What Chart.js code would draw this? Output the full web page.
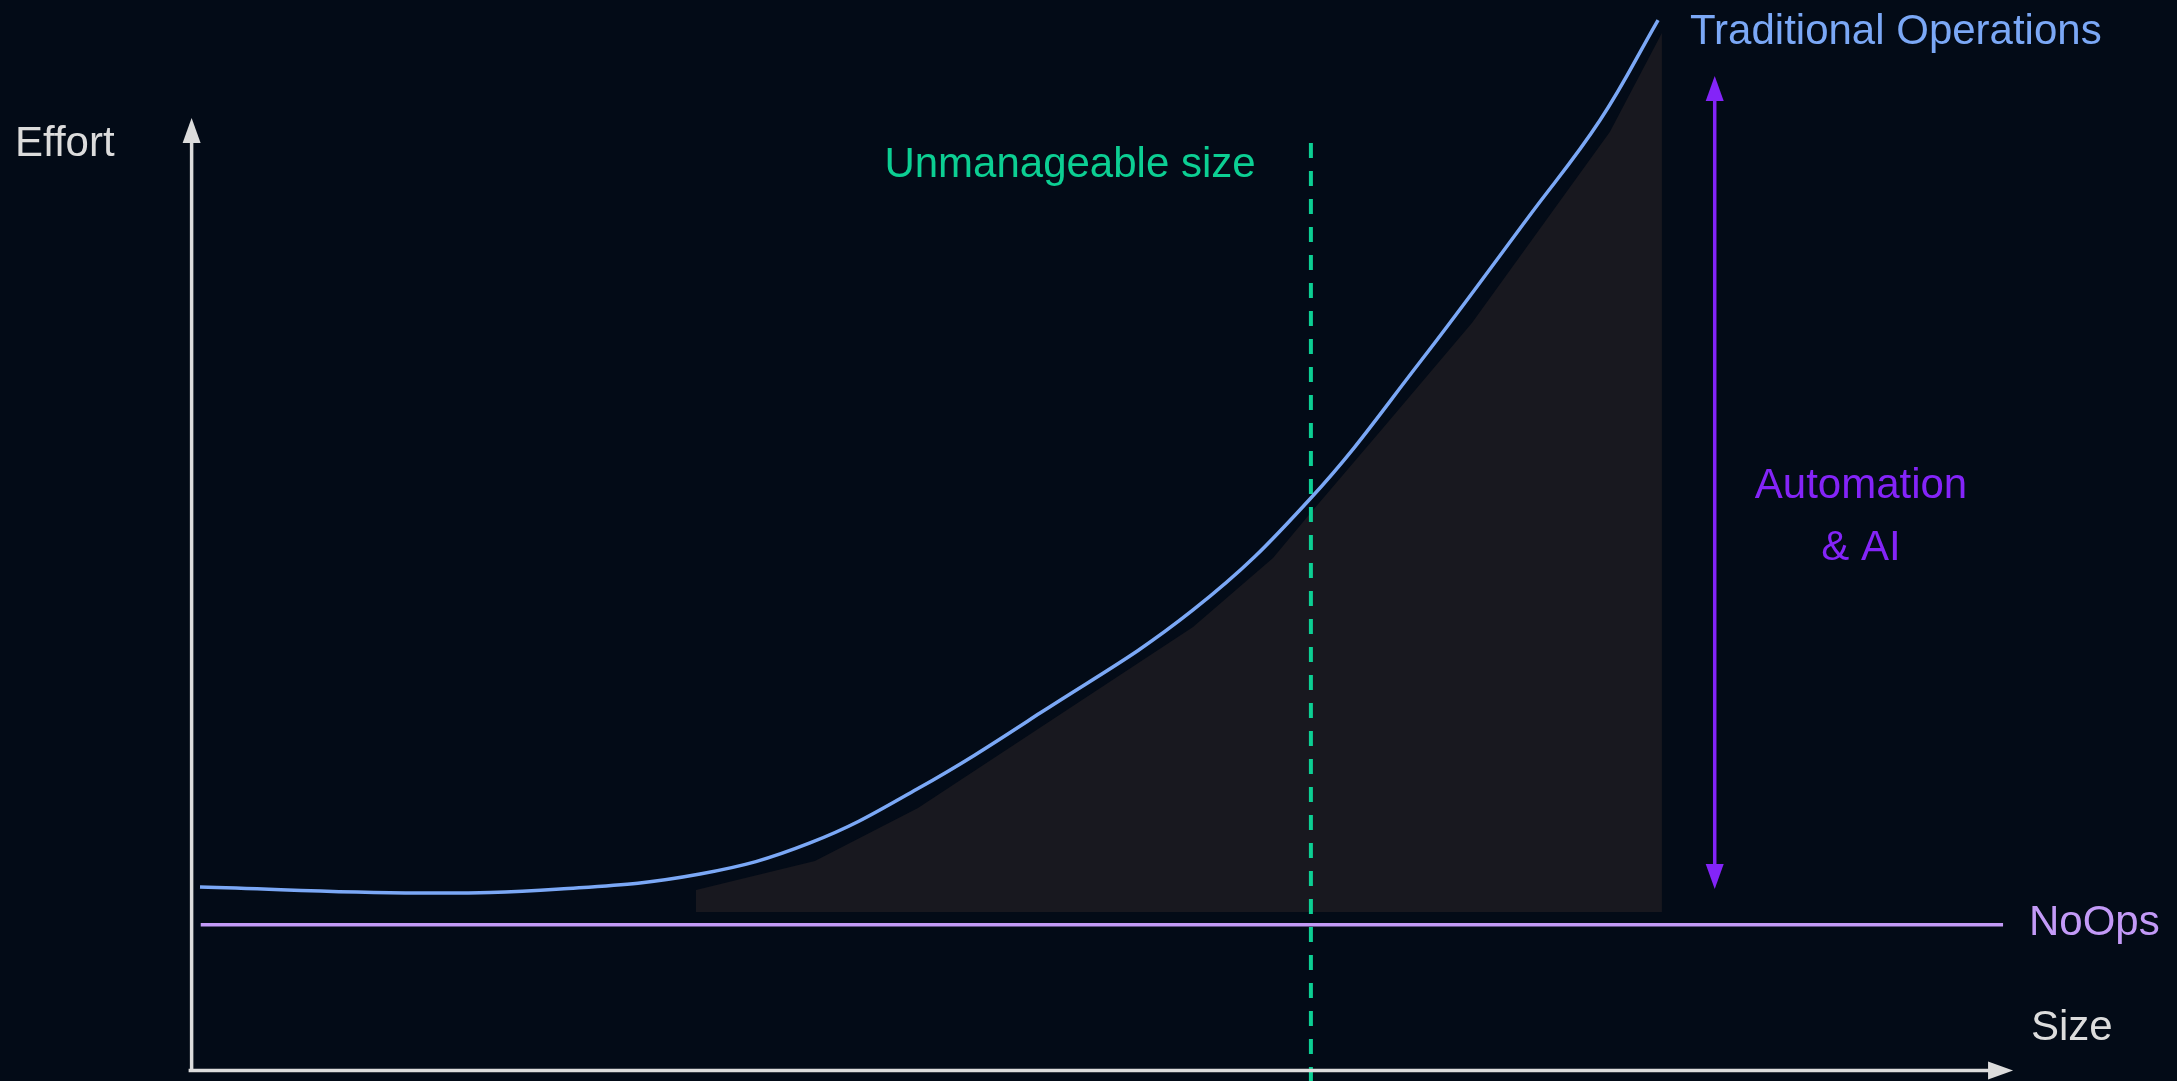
<!DOCTYPE html>
<html>
<head>
<meta charset="utf-8">
<script src="https://cdn.jsdelivr.net/npm/chart.js"></script>
<style>
  html, body { margin: 0; padding: 0; background: #030b17; }
  #wrap { width: 2177px; height: 1081px; position: relative; }
</style>
</head>
<body>
<div id="wrap"><canvas id="effort-chart"></canvas></div>
<script>
// size (x) runs 0..100 from the effort axis to the arrow tip, effort (y) 0..100 likewise
const traditionalSize   = [0.46, 12.54, 20.23, 27.91, 33.95, 39.83, 46.58, 54.98, 61.40, 67.44, 73.48, 77.33, 80.51];
const traditionalEffort = [19.27, 18.64, 19.06, 20.63, 23.89, 29.55, 37.53, 48.35, 60.00, 74.38, 89.82, 99.79, 110.29];

// shaded gap between the curve and NoOps
const gapSize   = [27.69, 34.22, 39.88, 54.98, 59.37, 61.57, 65.41, 70.29, 77.87, 80.72];
const gapEffort = [18.95, 21.99, 27.56, 46.56, 53.82, 58.86, 67.45, 78.48, 98.56, 108.92];
const gapFloor = 16.64;

const noOpsEffort = 15.3;
const noOpsSize = [0.5, 99.45];

const unmanageableSize = 61.45;
const unmanageableEffort = [97.38, -1.2];

const automationSize = 83.62;
const automationEffort = [19.05, 104.4];

const bg = '#030b17';
const axisColor = '#dcdcdc';
const blue = '#7ba8f6';
const lavender = '#c39af7';
const green = '#0ccf93';
const purple = '#8424f8';
const font = '42px "Liberation Sans", Arial, sans-serif';

const pts = (xs, ys) => xs.map((v, i) => ({ x: v, y: ys[i] }));

function arrowhead(ctx, tx, ty, dir, color) {
  const len = 25, half = 9;
  ctx.fillStyle = color;
  ctx.beginPath();
  if (dir === 'up') { ctx.moveTo(tx, ty); ctx.lineTo(tx - half, ty + len); ctx.lineTo(tx + half, ty + len); }
  if (dir === 'down') { ctx.moveTo(tx, ty); ctx.lineTo(tx - half, ty - len); ctx.lineTo(tx + half, ty - len); }
  if (dir === 'right') { ctx.moveTo(tx, ty); ctx.lineTo(tx - len, ty - half); ctx.lineTo(tx - len, ty + half); }
  ctx.closePath();
  ctx.fill();
}

const decorations = {
  id: 'decorations',
  beforeDraw(chart) {
    const ctx = chart.ctx;
    ctx.save();
    ctx.fillStyle = bg;
    ctx.fillRect(0, 0, chart.width, chart.height);
    ctx.restore();
  },
  afterDatasetsDraw(chart) {
    const ctx = chart.ctx, x = chart.scales.x, y = chart.scales.y;
    const ox = x.getPixelForValue(0), oy = y.getPixelForValue(0);
    const xEnd = x.getPixelForValue(100), yEnd = y.getPixelForValue(100);
    ctx.save();
    // axes
    ctx.strokeStyle = axisColor;
    ctx.lineWidth = 3.5;
    ctx.beginPath();
    ctx.moveTo(ox, oy + 1.75); ctx.lineTo(ox, yEnd + 24);
    ctx.moveTo(ox - 3, oy); ctx.lineTo(xEnd - 24, oy);
    ctx.stroke();
    arrowhead(ctx, ox, yEnd, 'up', axisColor);
    arrowhead(ctx, xEnd, oy, 'right', axisColor);

    // automation arrow heads
    const ax = x.getPixelForValue(automationSize);
    arrowhead(ctx, ax, y.getPixelForValue(automationEffort[1]), 'up', purple);
    arrowhead(ctx, ax, y.getPixelForValue(automationEffort[0]), 'down', purple);

    // labels
    ctx.font = font;
    ctx.textBaseline = 'alphabetic';
    ctx.textAlign = 'left';
    ctx.fillStyle = axisColor;
    ctx.fillText('Effort', 15, 156);
    ctx.fillText('Size', 2031, 1040);
    ctx.fillStyle = lavender;
    ctx.fillText('NoOps', 2029, 935);
    ctx.fillStyle = blue;
    ctx.fillText('Traditional Operations', 1690, 44);
    ctx.textAlign = 'center';
    ctx.fillStyle = green;
    ctx.fillText('Unmanageable size', 1070, 177);
    ctx.fillStyle = purple;
    ctx.fillText('Automation', 1861, 498);
    ctx.fillText('& AI', 1861, 560);
    ctx.restore();
  }
};

new Chart(document.getElementById('effort-chart'), {
  type: 'scatter',
  data: {
    datasets: [
      {
        label: 'Traditional Operations',
        data: pts(traditionalSize, traditionalEffort),
        showLine: true,
        borderColor: blue,
        borderWidth: 3.5,
        tension: 0.4,
        pointRadius: 0,
        fill: false,
        order: 1
      },
      {
        label: 'Unmanageable size',
        data: pts([unmanageableSize, unmanageableSize], unmanageableEffort),
        showLine: true,
        borderColor: green,
        borderWidth: 4,
        borderDash: [15, 13],
        pointRadius: 0,
        order: 2
      },
      {
        label: 'NoOps',
        data: pts(noOpsSize, [noOpsEffort, noOpsEffort]),
        showLine: true,
        borderColor: lavender,
        borderWidth: 3.5,
        pointRadius: 0,
        order: 3
      },
      {
        label: 'Automation & AI',
        data: pts([automationSize, automationSize], [automationEffort[0] + 2.4, automationEffort[1] - 2.4]),
        showLine: true,
        borderColor: purple,
        borderWidth: 3.5,
        pointRadius: 0,
        order: 4
      },
      {
        label: 'gap',
        data: pts(gapSize, gapEffort),
        showLine: true,
        borderWidth: 0,
        borderColor: 'rgba(0,0,0,0)',
        backgroundColor: '#18181f',
        fill: { value: gapFloor },
        tension: 0,
        pointRadius: 0,
        order: 5
      }
    ]
  },
  options: {
    responsive: true,
    maintainAspectRatio: false,
    animation: false,
    events: [],
    layout: { padding: 0 },
    plugins: {
      legend: { display: false },
      tooltip: { enabled: false },
      title: { display: false }
    },
    scales: {
      x: { type: 'linear', display: false, min: -10.52, max: 109.0 },
      y: { type: 'linear', display: false, min: -1.10, max: 112.39 }
    }
  },
  plugins: [decorations]
});
</script>
</body>
</html>
